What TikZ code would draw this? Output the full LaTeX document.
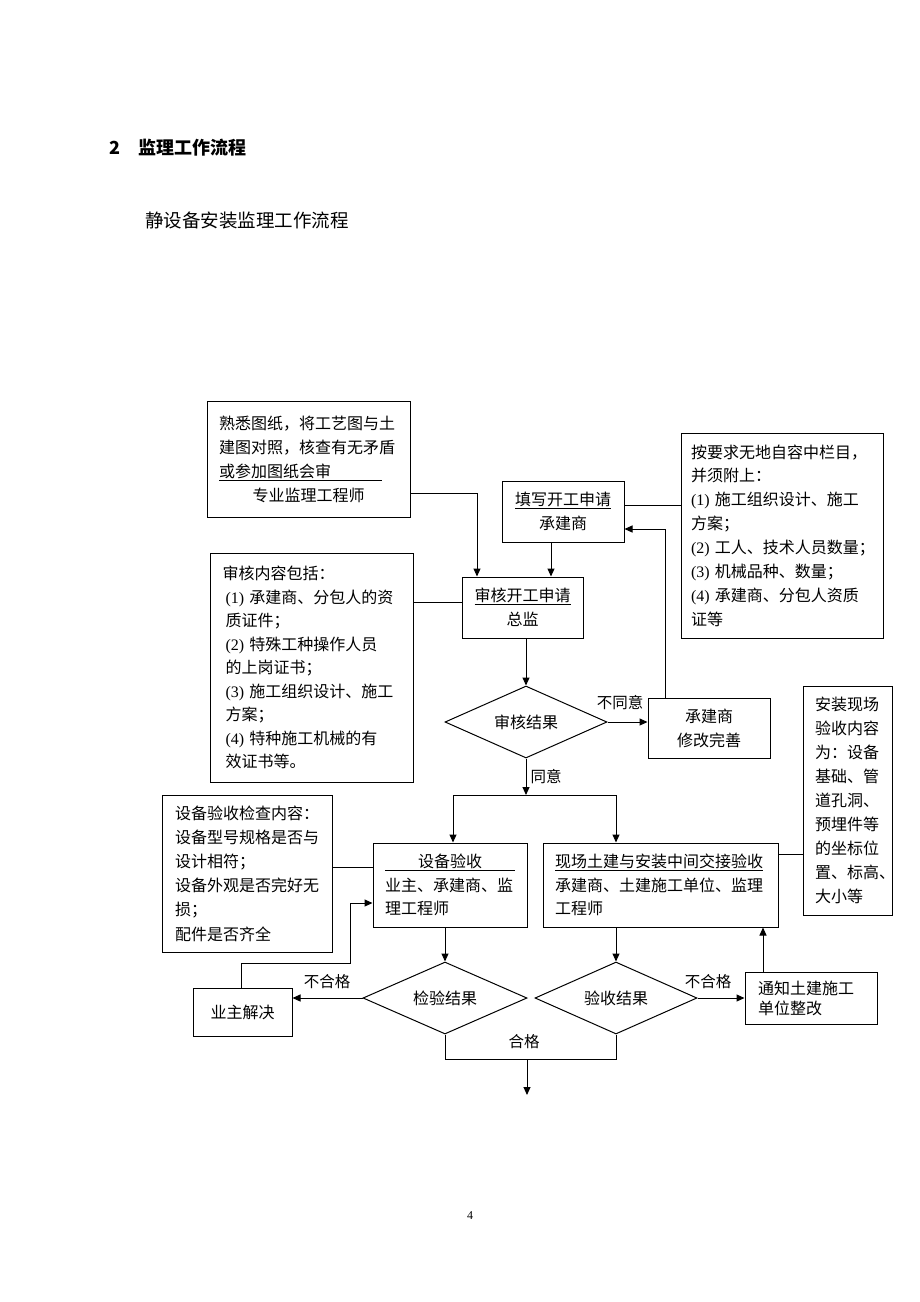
\documentclass[tikz,border=0pt]{standalone}
\usepackage{fontspec}
\setmainfont{Noto Sans CJK SC}
\newfontfamily\lat{Liberation Serif}
\usetikzlibrary{shapes.geometric,arrows.meta}
\begin{document}
\begin{tikzpicture}[x=1pt,y=-1pt,
  box/.style={draw, line width=1pt, inner sep=0pt, font=\fontsize{16}{24}\selectfont},
  dia/.style={diamond, draw, line width=1pt, inner sep=0pt, aspect=2.25, font=\fontsize{16}{16}\selectfont},
  line/.style={line width=1pt},
  arr/.style={line width=1pt, -{Triangle[length=8pt,width=7pt]}},
  lbl/.style={inner sep=0pt, font=\fontsize{15.5}{15.5}\selectfont}]
\useasboundingbox (0,0) rectangle (920,1302);
\fill[white] (0,0) rectangle (920,1302);

% titles
\node[anchor=west, inner sep=0pt, font=\fontsize{18}{18}\selectfont\bfseries] (title) at (109,148) {2\hspace{18pt}监理工作流程};
\node[anchor=west, inner sep=0pt, font=\fontsize{18.5}{18.5}\selectfont] (sub) at (145,220) {静设备安装监理工作流程};

% boxes
\node[box, minimum width=203pt, minimum height=116pt, text width=179pt, align=left] (b1) at (308.5,459)
 {熟悉图纸，将工艺图与土\\建图对照，核查有无矛盾\\\underline{或参加图纸会审\hspace{51pt}}\\\makebox[179pt][c]{专业监理工程师}};

\node[box, minimum width=122pt, minimum height=61pt, align=center] (tx) at (563,511.5)
 {\underline{填写开工申请}\\承建商};

\node[box, minimum width=202pt, minimum height=205pt, text width=182pt, align=left, font=\fontsize{16}{23.9}\selectfont] (ay) at (782,535.5)
 {按要求无地自容中栏目，\\并须附上：\\{\lat(1)}~施工组织设计、施工\\方案；\\{\lat(2)}~工人、技术人员数量；\\{\lat(3)}~机械品种、数量；\\{\lat(4)}~承建商、分包人资质\\证等};

\node[box, minimum width=121pt, minimum height=61pt, align=center] (sh) at (522.5,607.5)
 {\underline{审核开工申请}\\总监};

\node[box, minimum width=203pt, minimum height=229pt, text width=172pt, align=left, font=\fontsize{16}{23.5}\selectfont] (sn) at (311.5,667.5)
 {\hspace{-3pt}审核内容包括：\\{\lat(1)}~承建商、分包人的资\\质证件；\\{\lat(2)}~特殊工种操作人员\\的上岗证书；\\{\lat(3)}~施工组织设计、施工\\方案；\\{\lat(4)}~特种施工机械的有\\效证书等。};

\node[dia, minimum width=162pt, minimum height=72pt] (jg1) at (526,722) {审核结果};

\node[box, minimum width=122pt, minimum height=60pt, align=center] (xg) at (709,728)
 {承建商\\修改完善};

\node[box, minimum width=89pt, minimum height=229pt, text width=65pt, align=left] (az) at (847.5,800.5)
 {安装现场\\验收内容\\为：设备\\基础、管\\道孔洞、\\预埋件等\\的坐标位\\置、标高、\\大小等};

\node[box, minimum width=170pt, minimum height=157pt, text width=144pt, align=left, font=\fontsize{16}{24.2}\selectfont] (jc) at (247,873.5)
 {设备验收检查内容：\\设备型号规格是否与\\设计相符；\\设备外观是否完好无\\损；\\配件是否齐全};

\node[box, minimum width=154pt, minimum height=84pt, text width=130pt, align=left, font=\fontsize{16}{23.5}\selectfont] (sb) at (450,885)
 {\underline{\hspace{33pt}设备验收\hspace{33pt}}\\业主、承建商、监\\理工程师};

\node[box, minimum width=235pt, minimum height=84pt, text width=211pt, align=left, font=\fontsize{16}{23.5}\selectfont] (xc) at (660.5,885)
 {\underline{现场土建与安装中间交接验收}\\承建商、土建施工单位、监理\\工程师};

\node[dia, minimum width=164pt, minimum height=72pt] (jy1) at (445,998) {检验结果};
\node[dia, minimum width=162pt, minimum height=72pt] (ys) at (616,998) {验收结果};

\node[box, minimum width=99pt, minimum height=48pt] (yz) at (242.5,1012) {业主解决};

\node[box, minimum width=132pt, minimum height=52pt, text width=106pt, align=left, font=\fontsize{16}{20}\selectfont] (tz) at (811,998)
 {通知土建施工\\单位整改};

\node[inner sep=0pt, font=\lat\fontsize{12}{12}\selectfont] (pg) at (470,1216) {4};

% connectors
\coordinate (c1) at (477,493);
\draw[arr] (b1.east |- c1) -- (c1) -- (c1 |- sh.north);
\coordinate (c2) at (551,560);
\draw[arr] (c2 |- tx.south) -- (c2 |- sh.north);
\coordinate (c3) at (650,505);
\draw[line] (c3 -| tx.east) -- (c3 -| ay.west);
\coordinate (c4) at (440,602);
\draw[line] (c4 -| sn.east) -- (c4 -| sh.west);
\draw[arr] (sh.south -| jg1.north) -- (jg1.north);
\draw[arr] (jg1.east) -- (jg1.east -| xg.west);
\node[lbl] (l1) at (620,703) {不同意};
\coordinate (c5) at (665,529);
\draw[arr] (c5 |- xg.north) -- (c5) -- (c5 -| tx.east);
\coordinate (c6) at (526,795);
\draw[arr] (jg1.south) -- (c6);
\node[lbl] (l2) at (546,777) {同意};
\coordinate (c7) at (453,795);
\coordinate (c8) at (616,795);
\draw[line] (c7) -- (c8);
\draw[arr] (c7) -- (c7 |- sb.north);
\draw[arr] (c8) -- (c8 |- xc.north);
\coordinate (c9) at (350,867);
\draw[line] (c9 -| jc.east) -- (c9 -| sb.west);
\coordinate (c10) at (790,854);
\draw[line] (c10 -| xc.east) -- (c10 -| az.west);
\draw[arr] (jy1.north |- sb.south) -- (jy1.north);
\draw[arr] (ys.north |- xc.south) -- (ys.north);
\draw[arr] (jy1.west) -- (jy1.west -| yz.east);
\node[lbl] (l3) at (327,982) {不合格};
\coordinate (c11) at (241,963);
\coordinate (c12) at (350,903);
\draw[arr] (c11 |- yz.north) -- (c11) -| (c12) -- (c12 -| sb.west);
\draw[arr] (ys.east) -- (ys.east -| tz.west);
\node[lbl] (l4) at (708,982) {不合格};
\coordinate (c13) at (763,950);
\draw[arr] (c13 |- tz.north) -- (c13 |- xc.south);
\coordinate (c14) at (445,1059);
\coordinate (c15) at (527,1059);
\coordinate (c16) at (527,1095);
\draw[line] (jy1.south) -- (jy1.south |- c14) -- (ys.south |- c14) -- (ys.south);
\draw[arr] (c15) -- (c16);
\node[lbl] (l5) at (524,1042) {合格};
\end{tikzpicture}
\end{document}
